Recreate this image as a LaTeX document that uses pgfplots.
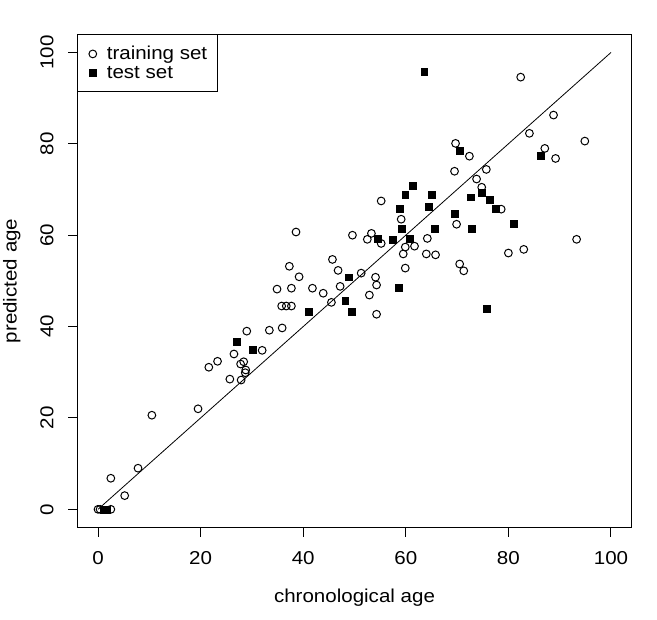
\documentclass[border=0pt]{standalone}
\usepackage{fontspec}
\setmainfont{Liberation Sans}[FakeStretch=1.1]
\usepackage{pgfplots}
\pgfplotsset{compat=1.18}
\begin{document}
\begin{tikzpicture}
\path[use as bounding box] (-58.125pt,-69.3pt) rectangle (434.625pt,395.7pt);
\begin{axis}[
  at={(0,0)}, anchor=south west,
  scale only axis, width=415.5pt, height=370.05pt,
  xmin=-4, xmax=104, ymin=-4, ymax=104,
  xtick={0,20,...,100}, ytick={0,20,...,100},
  tick pos=left, tick align=outside, major tick length=6.75pt,
  axis line style={line width=0.75pt},
  every tick/.style={black, line width=0.75pt},
  /pgf/number format/assume math mode=true,
  tick label style={font=\fontsize{14}{16}\selectfont, inner sep=0pt},
  xticklabel style={anchor=north},
  yticklabel style={rotate=90, anchor=south},
  xticklabel shift=11pt,
  yticklabel shift=11pt,
  label style={font=\fontsize{14}{16}\selectfont},
  xlabel={chronological age}, ylabel={predicted age},
  xlabel style={at={(axis description cs:0.5,-0.1244)}, anchor=north, inner sep=0pt},
  ylabel style={at={(axis description cs:-0.1022,0.5)}, anchor=south, inner sep=0pt},
  legend style={at={(axis description cs:0,1)}, anchor=north west, draw=black,
    line width=0.75pt, font=\fontsize{14}{16}\selectfont,
    inner xsep=7.4pt, inner ysep=8.6pt, row sep=3.35pt,
    nodes={inner sep=0pt}},
  legend cell align=left,
  legend image code/.code={\path[draw=none] (-3.7pt,0pt) (10.5pt,0pt);
    \draw[#1] plot coordinates {(0pt,0pt)};},
]
\addplot[only marks, mark=o, mark size=2.9pt, mark options={line width=0.75pt}] table {
x y
0 0
0.4 0
2.5 0
2.5 6.8
5.2 3.0
7.8 9.0
10.5 20.6
19.5 22.0
21.6 31.1
23.3 32.4
25.7 28.5
26.5 34.0
27.8 31.8
27.9 28.3
28.4 32.3
28.7 29.9
28.8 30.5
29.0 39.0
32.0 34.8
33.4 39.2
35.8 44.5
36.7 44.5
37.7 44.5
35.9 39.7
34.9 48.2
37.7 48.4
37.3 53.2
39.2 50.9
38.6 60.7
41.8 48.4
43.9 47.3
45.5 45.3
45.7 54.7
46.8 52.3
47.2 48.8
51.3 51.7
49.6 60.0
52.9 46.9
54.1 50.8
54.3 49.1
54.3 42.7
52.5 59.1
53.3 60.4
55.2 58.2
55.2 67.5
59.1 63.5
59.9 57.4
61.7 57.6
59.5 55.9
64.2 59.3
64.0 55.9
65.8 55.7
59.9 52.8
82.4 94.6
88.8 86.3
84.1 82.3
94.9 80.6
87.1 79.0
89.2 76.8
69.7 80.1
72.4 77.3
69.5 74.0
75.7 74.4
73.8 72.3
74.8 70.5
78.6 65.7
69.9 62.4
93.3 59.1
80.0 56.1
83.0 56.9
70.5 53.7
71.3 52.2
};
\addplot[only marks, mark=square*, mark size=2.6pt, black] table {
x y
1.2 0
1.7 0
27.0 36.7
30.2 34.9
41.0 43.2
48.8 50.8
48.2 45.6
49.4 43.2
54.5 59.3
57.5 59.1
58.8 65.7
59.3 61.5
60.7 59.3
64.5 66.3
65.6 61.5
58.7 48.4
61.3 70.9
59.9 68.8
65.0 68.8
70.5 78.4
86.3 77.3
74.8 69.2
72.6 68.3
76.3 67.7
77.5 65.7
69.5 64.6
72.9 61.5
81.0 62.5
75.7 43.9
63.6 95.7
};
\addplot[black, line width=0.6pt, forget plot] coordinates {(0,0) (100,100)};
\legend{training set, test set}
\end{axis}
\end{tikzpicture}
\end{document}
